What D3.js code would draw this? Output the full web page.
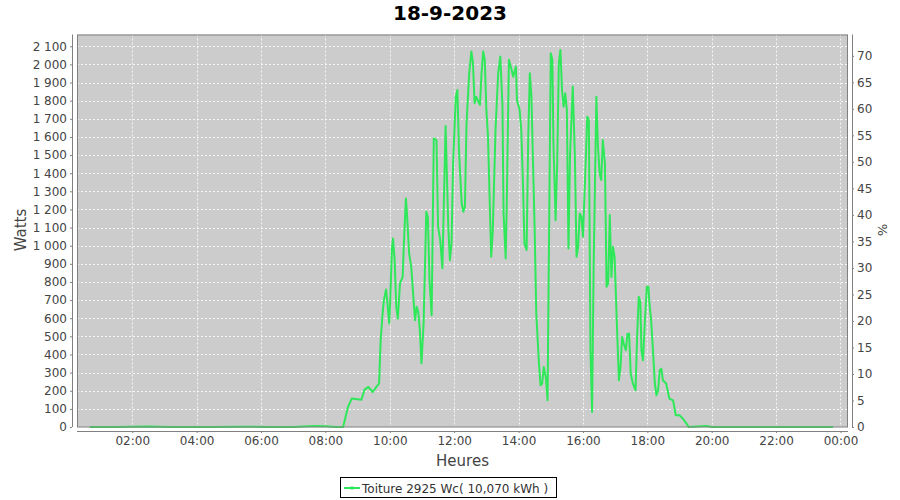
<!DOCTYPE html>
<html><head><meta charset="utf-8">
<script src="https://cdn.jsdelivr.net/npm/d3@7"></script>
<style>
body{margin:0;background:#fff}
svg{display:block;font-family:"DejaVu Sans",sans-serif}
</style>
</head><body>
<svg id="c" width="900" height="500"></svg>
<script>
const chartTitle = "18-9-2023";
const seriesName = "Toiture 2925 Wc( 10,070 kWh )";
const peakPower = 2925;
const yLabel = "Watts", xLabel = "Heures", y2Label = "%";

const times = ["00:41","01:30","02:30","03:10","03:40","04:30","05:20","06:10","07:00","07:40","08:00","08:20","08:33",
"08:42","08:49","09:07","09:13","09:20","09:28","09:35","09:40","09:43","09:46","09:49","09:53","09:55","09:59",
"10:01","10:04","10:06","10:09","10:12","10:15","10:19","10:24","10:26","10:30","10:32","10:36","10:40","10:43",
"10:47","10:50","10:53","10:56","10:59","11:03","11:08","11:11","11:14","11:18","11:22","11:27","11:30","11:34",
"11:38","11:44","11:49","11:52","11:55","11:58","12:03","12:06","12:09","12:14","12:17","12:20","12:23","12:28",
"12:32","12:35","12:38","12:41","12:45","12:48","12:51","12:54","12:57","13:00","13:03","13:06","13:09","13:12",
"13:17","13:22","13:26","13:30","13:32","13:36","13:38","13:42","13:47","13:50","13:55","13:57","14:02","14:05",
"14:08","14:11","14:15","14:18","14:21","14:24","14:27","14:30","14:33","14:38","14:41","14:44","14:47","14:51",
"14:54","15:00","15:03","15:05","15:09","15:12","15:15","15:18","15:21","15:24","15:27","15:30","15:33","15:36",
"15:41","15:45","15:48","15:51","15:54","15:57","16:00","16:05","16:08","16:11","16:14","16:17","16:20","16:25",
"16:28","16:31","16:34","16:37","16:41","16:44","16:47","16:50","16:53","16:56","16:59","17:03","17:07","17:10",
"17:13","17:16","17:20","17:23","17:26","17:29","17:33","17:38","17:41","17:44","17:47","17:49","17:52","17:55",
"17:59","18:02","18:04","18:07","18:10","18:14","18:17","18:20","18:23","18:26","18:29","18:35","18:38","18:41",
"18:48","18:53","19:00","19:06","19:13","19:17","19:50","20:00","20:40","21:30","22:20","23:10","23:46"];
const watts = [0,0,3,0,0,0,2,0,0,5,4,0,0,
110,157,150,206,221,193,221,240,479,607,700,759,700,571,
718,985,1040,920,663,598,792,828,994,1261,1178,957,883,755,
589,663,636,534,350,571,1187,1155,810,617,1592,1583,1104,1031,
875,1660,1104,920,1010,1454,1822,1859,1519,1234,1187,1215,1675,1951,
2071,2008,1786,1822,1795,1777,1951,2071,2026,1749,1602,1270,939,1086,
1638,1951,2043,1767,1178,930,1234,2026,1970,1932,1988,1804,1749,1638,
1362,1013,976,1600,1951,1822,1454,1086,626,350,230,240,331,270,
147,2062,2026,1565,1141,1454,2007,2080,1859,1767,1841,1749,985,1509,
1878,1490,939,994,1178,1160,1049,1454,1712,1694,423,83,900,1822,
1546,1399,1362,1583,1454,773,792,1169,828,994,939,589,258,331,
497,460,423,515,515,295,240,203,500,718,690,423,368,560,
773,773,681,589,450,240,175,200,313,322,258,240,200,157,
147,65,65,46,19,0,5,0,0,0,0,0,0];

const wattTicks = [0,100,200,300,400,500,600,700,800,900,1000,1100,1200,1300,1400,1500,1600,1700,1800,1900,2000,2100];
const pctTicks = [0,5,10,15,20,25,30,35,40,45,50,55,60,65,70];
const hourTickLabels = ["02:00","04:00","06:00","08:00","10:00","12:00","14:00","16:00","18:00","20:00","22:00","00:00"];

const svg = d3.select("#c");
const L = 77, R = 848, T = 34.5, B = 427;
const toDate = (s, dayOff) => { const [h,m] = s.split(":").map(Number); return new Date(2023, 8, 18 + (dayOff||0), h, m); };
const data = times.map((t,i) => ({t: toDate(t), w: watts[i]}));
const tickDates = hourTickLabels.map((s,i) => toDate(s, i === hourTickLabels.length-1 ? 1 : 0));

const x = d3.scaleTime().domain([new Date(2023,8,18,0,17), new Date(2023,8,19,0,14)]).range([L, R]);
const wMax = 2165;
const y = d3.scaleLinear().domain([0, wMax]).range([B, T]);
const y2 = d3.scaleLinear().domain([0, wMax / peakPower * 100]).range([B, T]);

// title
svg.append("text").attr("x", 450).attr("y", 20).attr("text-anchor","middle")
  .attr("font-size", 20).attr("font-weight","bold").attr("fill","#000").text(chartTitle);

// plot background
svg.append("rect").attr("x", L).attr("y", T).attr("width", R-L).attr("height", B-T).attr("fill", "#cccccc");

// gridlines
const g = svg.append("g");
g.selectAll("line.h").data(wattTicks).join("line")
  .attr("x1", L).attr("x2", R).attr("y1", d => Math.round(y(d))+0.5).attr("y2", d => Math.round(y(d))+0.5)
  .attr("stroke","#ffffff").attr("stroke-width",0.8).attr("stroke-dasharray","2,2");
g.selectAll("line.v").data(tickDates).join("line")
  .attr("y1", T).attr("y2", B).attr("x1", d => Math.round(x(d))+0.5).attr("x2", d => Math.round(x(d))+0.5)
  .attr("stroke","#ffffff").attr("stroke-width",0.8).attr("stroke-dasharray","2,2");

// series line
const clipId = "clipP";
svg.append("clipPath").attr("id", clipId).append("rect").attr("x", L).attr("y", T).attr("width", R-L).attr("height", B-T+2);
svg.append("path").datum(data).attr("clip-path", `url(#${clipId})`)
  .attr("fill","none").attr("stroke","#2ee85a").attr("stroke-width",2).attr("stroke-linejoin","round")
  .attr("d", d3.line().x(d => x(d.t)).y(d => y(d.w)));

// plot border
svg.append("rect").attr("x", L+0.5).attr("y", T+0.5).attr("width", R-L-1).attr("height", B-T-0.5)
  .attr("fill","none").attr("stroke","#808080").attr("stroke-width",1);

const fmtW = v => d3.format(",")(v).replace(/,/g, "\u00a0");
const axisColor = "#808080", textColor = "#444444";

// left axis
const yAxis = svg.append("g").attr("transform", `translate(${L-5},0)`)
  .call(d3.axisLeft(y).tickValues(wattTicks).tickFormat(fmtW).tickSize(2).tickPadding(3));
// right axis
const y2Axis = svg.append("g").attr("transform", `translate(${R+4},0)`)
  .call(d3.axisRight(y2).tickValues(pctTicks).tickFormat(d3.format("d")).tickSize(2).tickPadding(3));
// bottom axis
const xAxis = svg.append("g").attr("transform", `translate(0,${B+4})`)
  .call(d3.axisBottom(x).tickValues(tickDates).tickFormat((d,i) => hourTickLabels[i]).tickSize(2).tickPadding(3));

[yAxis, y2Axis, xAxis].forEach(a => {
  a.select(".domain").attr("stroke", axisColor);
  a.selectAll(".tick line").attr("stroke", axisColor);
  a.selectAll(".tick text").attr("fill", textColor).attr("font-size", 12).attr("font-family", '"DejaVu Sans", sans-serif');
});
// make domain lines plain (no end ticks)
yAxis.select(".domain").attr("d", `M0.5,${T}V${B}`);
y2Axis.select(".domain").attr("d", `M0.5,${T}V${B}`);
xAxis.select(".domain").attr("d", `M${L},0.5H${R}`);

// axis labels
svg.append("text").attr("transform", "translate(26,230) rotate(-90)").attr("text-anchor","middle")
  .attr("font-size", 15).attr("fill", textColor).text(yLabel);
svg.append("text").attr("x", (L+R)/2).attr("y", 466).attr("text-anchor","middle")
  .attr("font-size", 15).attr("fill", textColor).text(xLabel);
svg.append("text").attr("transform", "translate(878,230) rotate(90)").attr("text-anchor","middle")
  .attr("font-size", 13).attr("fill", textColor).text(y2Label);

// legend
const lg = svg.append("g");
lg.append("rect").attr("x", 340.5).attr("y", 477.5).attr("width", 216).attr("height", 20)
  .attr("fill","#fff").attr("stroke","#000").attr("stroke-width",1);
lg.append("line").attr("x1", 344).attr("x2", 360).attr("y1", 488).attr("y2", 488)
  .attr("stroke","#2ee85a").attr("stroke-width",2);
lg.append("rect").attr("x", 350.5).attr("y", 486.5).attr("width", 3).attr("height", 3).attr("fill","#2ee85a");
lg.append("text").attr("x", 362).attr("y", 492.5).attr("font-size", 12).attr("fill","#333").text(seriesName);
</script>
</body></html>
